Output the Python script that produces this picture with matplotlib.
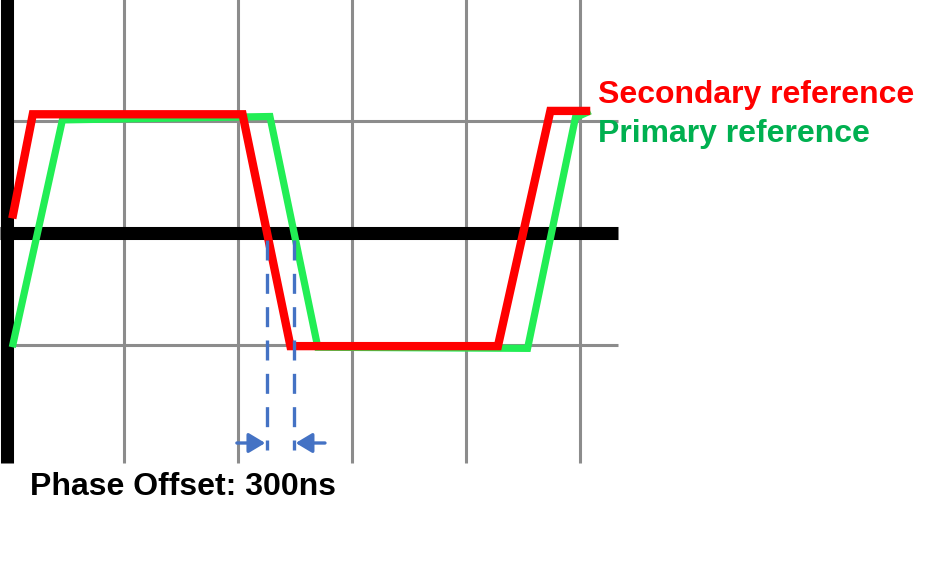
import matplotlib.pyplot as plt

plt.rcParams['font.family'] = ['Liberation Sans', 'DejaVu Sans']

# waveform vertices (x in grid divisions, y in normalised level)
red_x = [0.02, 0.20, 2.04, 2.46, 4.28, 4.74, 5.09]
red_y = [0.13, 1.06, 1.06, -1.01, -1.01, 1.09, 1.09]
green_x = [0.02, 0.46, 2.28, 2.70, 4.54, 4.96, 5.09]
green_y = [-1.02, 1.01, 1.04, -1.02, -1.03, 1.03, 1.09]

grid_x = [1, 2, 3, 4, 5]
grid_y = [1, -1]

# zero crossings used for the offset marker
cross_x = [2.254, 2.491]
offset_label = 'Phase Offset: 300ns'
series_labels = ['Secondary reference', 'Primary reference']

fig = plt.figure(figsize=(9.5, 5.82), dpi=100)
ax = fig.add_axes([0, 0, 1, 1])
ax.set_xlim(-10 / 114, 940 / 114)
ax.set_ylim(-349 / 112, 233 / 112)
ax.axis('off')

# grid
y_bottom = -2.05
for gx in grid_x:
    ax.plot([gx, gx], [2.2, y_bottom], color='#8c8c8c', lw=2.2, zorder=1,
            solid_capstyle='butt')
for gy in grid_y:
    ax.plot([-0.02, 5.33], [gy, gy], color='#8c8c8c', lw=2.2, zorder=1,
            solid_capstyle='butt')

# black axes
ax.plot([-0.03, -0.03], [2.2, y_bottom], color='black', lw=9.4, zorder=2,
        solid_capstyle='butt')
ax.plot([-0.09, 5.33], [0, 0], color='black', lw=9.4, zorder=2,
        solid_capstyle='butt')

# signals
ax.plot(green_x, green_y, color='#22ee55', lw=5.2, zorder=3,
        solid_joinstyle='miter', solid_capstyle='butt')
ax.plot(red_x, red_y, color='#ff0000', lw=6.0, zorder=4,
        solid_joinstyle='miter', solid_capstyle='butt')

# phase offset markers
for cx in cross_x:
    ax.plot([cx, cx], [-0.06, -1.94], color='#4472c4', lw=2.4, zorder=5,
            dashes=(6, 4))

arrow_y = -1.875
aprops = dict(arrowstyle='-|>,head_length=1.0,head_width=0.6', lw=2.4,
              color='#4472c4', shrinkA=0, shrinkB=0)
ax.annotate('', xy=(cross_x[0] - 0.015, arrow_y), xytext=(1.99, arrow_y),
            arrowprops=aprops, zorder=6)
ax.annotate('', xy=(cross_x[1] + 0.015, arrow_y), xytext=(2.763, arrow_y),
            arrowprops=aprops, zorder=6)

# text
ax.text(0.175, -2.34, offset_label, fontsize=23, fontweight='bold',
        color='black', va='baseline', ha='left')
ax.text(5.158, 1.16, series_labels[0], fontsize=23, fontweight='bold',
        color='#ff0000', va='baseline', ha='left')
ax.text(5.158, 0.81, series_labels[1], fontsize=23, fontweight='bold',
        color='#00b050', va='baseline', ha='left')

fig.savefig('out.png', dpi=100)
